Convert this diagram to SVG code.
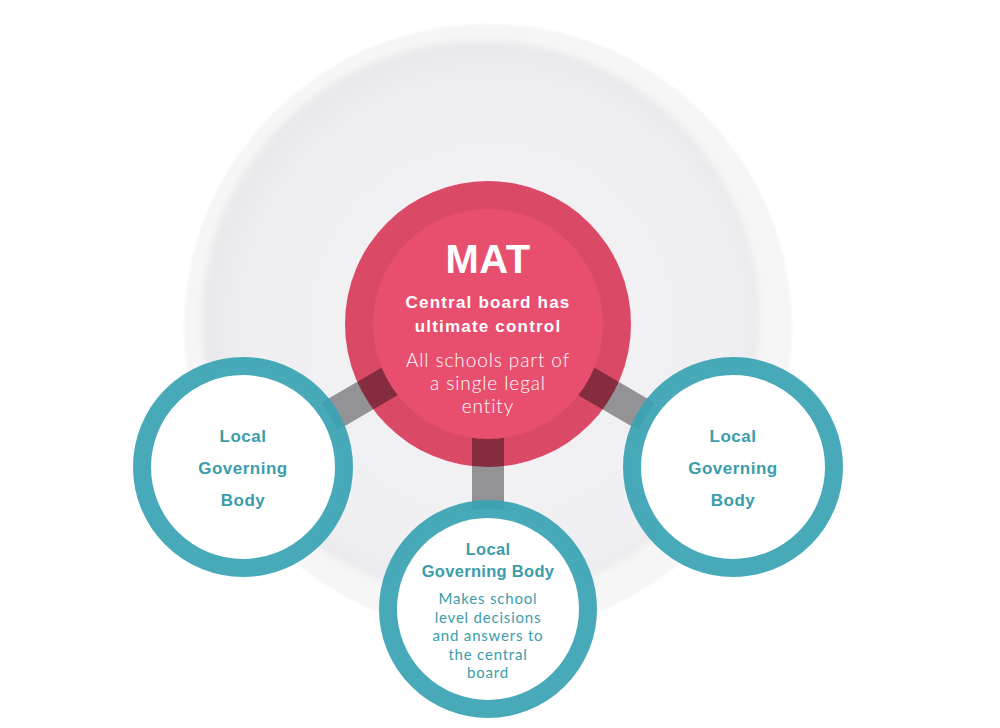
<svg xmlns="http://www.w3.org/2000/svg" width="1000" height="728" viewBox="0 0 1000 728">
  <defs>
    <radialGradient id="plate" cx="0.52" cy="0.52" r="0.5">
      <stop offset="0" stop-color="#f4f4f6"/>
      <stop offset="0.85" stop-color="#f0f0f2"/>
      <stop offset="1" stop-color="#eaeaed"/>
    </radialGradient>
    <filter id="soft" x="-10%" y="-10%" width="120%" height="120%">
      <feGaussianBlur stdDeviation="3"/>
    </filter>
    <filter id="soft2" x="-10%" y="-10%" width="120%" height="120%">
      <feGaussianBlur stdDeviation="1"/>
    </filter>
  </defs>
  <style>
    .ring { fill: #ffffff; }
    .ringline { fill: none; stroke: #3aa4b3; stroke-width: 18; opacity: 0.93; }
    .bold { font-family: "Liberation Sans", Arial, sans-serif; font-weight: bold; text-anchor: middle; }
    .thin { font-family: "Lato", "Open Sans", "Liberation Sans", sans-serif; font-weight: 300; text-anchor: middle; }
    .small { font-family: "Lato", "Open Sans", "Liberation Sans", sans-serif; font-weight: 400; text-anchor: middle; }
    .teal { fill: #3b9dab; }
    .white { fill: #ffffff; }
    .conn { stroke: #000000; stroke-opacity: 0.39; stroke-width: 32; stroke-linecap: butt; fill: none; }
  </style>
  <rect width="1000" height="728" fill="#ffffff"/>

  <g id="background">
    <circle cx="488" cy="328" r="304" fill="#f6f6f7" filter="url(#soft2)"/>
    <circle cx="481" cy="320" r="279" fill="url(#plate)" filter="url(#soft)"/>
  </g>

  <g id="mat-outer">
    <circle cx="488" cy="324" r="143" fill="#da4a67"/>
  </g>

  <g id="connectors">
    <line class="conn" x1="488" y1="324" x2="243" y2="467"/>
    <line class="conn" x1="488" y1="324" x2="733" y2="467"/>
    <line class="conn" x1="488" y1="324" x2="488" y2="609"/>
  </g>

  <g id="mat">
    <circle cx="488" cy="324" r="115" fill="#e84e6e"/>
    <text class="bold white" x="488" y="273" font-size="40" letter-spacing="0.5">MAT</text>
    <text class="bold white" x="488" y="308" font-size="17" letter-spacing="1.2">Central board has</text>
    <text class="bold white" x="488" y="332" font-size="17" letter-spacing="1.2">ultimate control</text>
    <text class="thin white" x="488" y="367" font-size="19" letter-spacing="0.9">All schools part of</text>
    <text class="thin white" x="488" y="390" font-size="19" letter-spacing="0.9">a single legal</text>
    <text class="thin white" x="488" y="413" font-size="19" letter-spacing="0.9">entity</text>
  </g>

  <g id="lgb-left">
    <circle class="ring" cx="243" cy="467" r="101"/>
    <circle class="ringline" cx="243" cy="467" r="101"/>
    <text class="bold teal" x="243" y="442" font-size="17" letter-spacing="0.5">Local</text>
    <text class="bold teal" x="243" y="474" font-size="17" letter-spacing="0.5">Governing</text>
    <text class="bold teal" x="243" y="506" font-size="17" letter-spacing="0.5">Body</text>
  </g>

  <g id="lgb-right">
    <circle class="ring" cx="733" cy="467" r="101"/>
    <circle class="ringline" cx="733" cy="467" r="101"/>
    <text class="bold teal" x="733" y="442" font-size="17" letter-spacing="0.5">Local</text>
    <text class="bold teal" x="733" y="474" font-size="17" letter-spacing="0.5">Governing</text>
    <text class="bold teal" x="733" y="506" font-size="17" letter-spacing="0.5">Body</text>
  </g>

  <g id="lgb-bottom">
    <circle class="ring" cx="488" cy="609" r="100"/>
    <circle class="ringline" cx="488" cy="609" r="100"/>
    <text class="bold teal" x="488" y="555" font-size="16.5" letter-spacing="0.3">Local</text>
    <text class="bold teal" x="488" y="577" font-size="16.5" letter-spacing="0.3">Governing Body</text>
    <text class="small teal" x="488" y="604" font-size="15" letter-spacing="0.8">Makes school</text>
    <text class="small teal" x="488" y="622.5" font-size="15" letter-spacing="0.8">level decisions</text>
    <text class="small teal" x="488" y="641" font-size="15" letter-spacing="0.8">and answers to</text>
    <text class="small teal" x="488" y="659.5" font-size="15" letter-spacing="0.8">the central</text>
    <text class="small teal" x="488" y="678" font-size="15" letter-spacing="0.8">board</text>
  </g>
</svg>
